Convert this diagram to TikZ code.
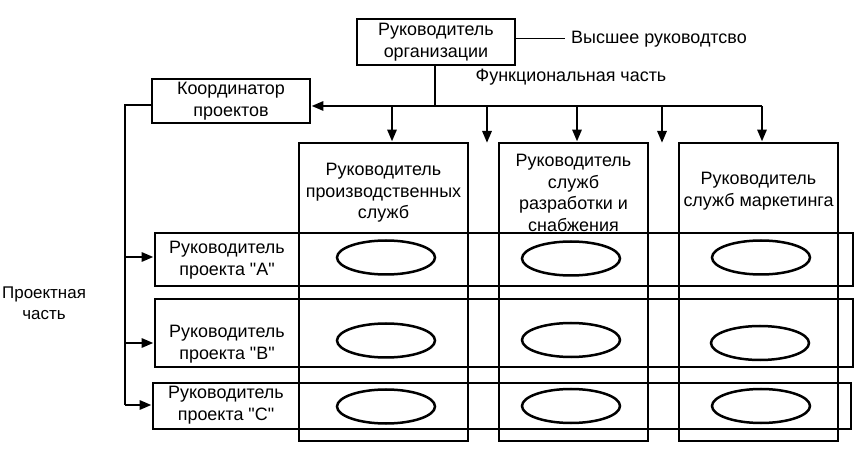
\documentclass[tikz,border=0pt]{standalone}
\usepackage{fontspec}
\newfontfamily\arialf{Liberation Sans}
\usetikzlibrary{arrows.meta,shapes.geometric}
\tikzset{
  box/.style={draw, line width=2.8bp, inner sep=0pt, align=center, font=\arialf\fontsize{18}{21.5}\selectfont},
  lbl/.style={inner sep=0pt, align=center, font=\arialf\fontsize{18}{21.5}\selectfont},
  oval/.style={draw, ellipse, line width=2.5bp, minimum width=98bp, minimum height=34bp, inner sep=0pt},
  conn/.style={line width=2.8bp},
  arr/.style={line width=2.8bp, -{Triangle[length=12bp,width=9bp]}},
  thin/.style={line width=1bp}
}
\begin{document}
\begin{tikzpicture}[x=1bp,y=-1bp]
\useasboundingbox (0,0) rectangle (864,458);
% top box
\node[box, minimum width=158bp, minimum height=46bp] (top) at (436,42) {Руководитель\\организации};
\node[lbl, anchor=west] (high) at (571,39) {Высшее руководтсво};
\draw[thin] (top.east |- high.west) -- ([xshift=-6bp]high.west);
\node[lbl] (func) at (571,77) {Функциональная часть};
% coordinator
\node[box, minimum width=158bp, minimum height=44bp] (coord) at (231,101) {Координатор\\проектов};
% functional boxes (drawn as rectangles, text separately)
\node[box, minimum width=169bp, minimum height=298bp] (f1) at (383.5,292) {};
\node[box, minimum width=149bp, minimum height=298bp] (f2) at (573.5,292) {};
\node[box, minimum width=159bp, minimum height=298bp] (f3) at (758.5,292) {};
\node[lbl] (f1t) at (383.5,193) {Руководитель\\производственных\\служб};
\node[lbl] (f2t) at (573.5,193) {Руководитель\\служб\\разработки и\\снабжения};
\node[lbl] (f3t) at (758.5,191) {Руководитель\\служб маркетинга};
% project rows
\node[box, minimum width=698bp, minimum height=53bp] (ra) at (504,259.5) {};
\node[box, minimum width=698bp, minimum height=68bp] (rb) at (504,333) {};
\node[box, minimum width=698bp, minimum height=46bp] (rc) at (502,406) {};
\node[lbl] (rat) at (227,260) {Руководитель\\проекта "A"};
\node[lbl] (rbt) at (227,344) {Руководитель\\проекта "B"};
\node[lbl] (rct) at (226,405) {Руководитель\\проекта "C"};
% ellipses
\node[oval] (e1a) at (386,257.5) {};
\node[oval] (e2a) at (571,258.5) {};
\node[oval] (e3a) at (761,257.5) {};
\node[oval] (e1b) at (386,340.5) {};
\node[oval] (e2b) at (571,340) {};
\node[oval] (e3b) at (760,343) {};
\node[oval] (e1c) at (386,406.5) {};
\node[oval] (e2c) at (571,406) {};
\node[oval] (e3c) at (761,406) {};
% side label
\node[lbl, anchor=west, font=\arialf\fontsize{17}{21}\selectfont] (proj) at (2,303) {Проектная\\часть};
% connectors
\coordinate (j) at (435,106);
\coordinate (jr) at (762,106);
\coordinate (d1) at (392,106);
\coordinate (d2) at (487,106);
\coordinate (d3) at (577,106);
\coordinate (d4) at (662,106);
\coordinate (g2) at (487,143);
\coordinate (g4) at (662,143);
\coordinate (lx) at (125,105);
\coordinate (la) at (125,257);
\coordinate (lb) at (125,343);
\coordinate (lc) at (125,405);
\draw[conn] (top.south -| j) -- (j);
\draw[arr] (jr) -- (coord.east |- j);
\draw[arr] (d1) -- (d1 |- f1.north);
\draw[arr] (d2) -- (g2);
\draw[arr] (d3) -- (d3 |- f2.north);
\draw[arr] (d4) -- (g4);
\draw[arr] (jr) -- (jr |- f3.north);
\draw[conn] (coord.west |- lx) -- (lx) -- (lc);
\draw[arr] (la) -- (ra.west |- la);
\draw[arr] (lb) -- (rb.west |- lb);
\draw[arr] (lc) -- (rc.west |- lc);
\end{tikzpicture}
\end{document}
